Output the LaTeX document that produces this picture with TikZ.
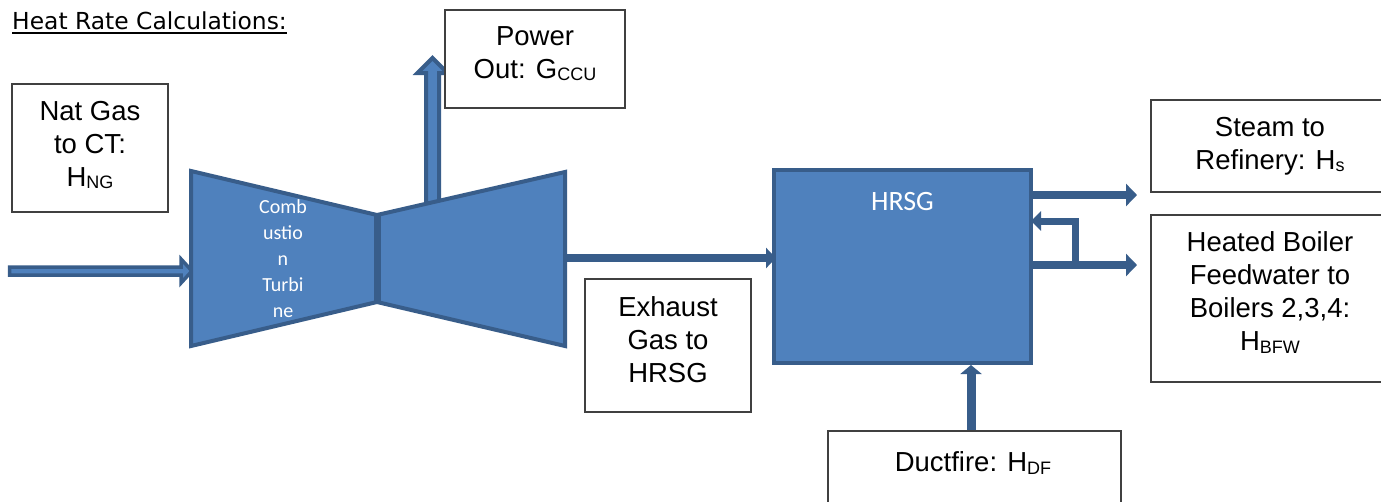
\documentclass[tikz,border=0pt]{standalone}
\usepackage{fontspec}
\setmainfont{Liberation Sans}
\newfontfamily\calibfont{Carlito}
\newfontfamily\titlefont{DejaVu Sans}
\usetikzlibrary{arrows.meta,calc}
\definecolor{accfill}{HTML}{4F81BD}
\definecolor{accline}{HTML}{385D8A}
\definecolor{boxline}{HTML}{404040}
\newcommand{\subtxt}[1]{\raisebox{-2.5pt}{\fontsize{18}{18}\selectfont #1}}

\begin{document}
\begin{tikzpicture}[x=1pt,y=-1pt,
  infobox/.style={draw=boxline, line width=1.4pt, fill=white, inner sep=0pt},
  infotext/.style={align=center, font=\fontsize{27.5}{33}\selectfont, inner sep=0pt},
  machine/.style={fill=accfill, draw=accline, line width=4pt, line join=miter},
  blockarrow/.style={fill=accfill, draw=accline, line width=3.5pt, line join=miter},
  flow/.style={draw=accline, line width=8pt, -{Triangle[length=11pt,width=22pt]}},
]
\clip (0,0) rectangle (1381,501);
\fill[white] (0,0) rectangle (1381,501);

% title
\node[anchor=base west, inner sep=0pt, font=\titlefont\fontsize{23.4}{28}\selectfont]
  (title) at (12,29) {Heat Rate Calculations:};
\draw[line width=1.8pt] ($(title.base west)+(0,4)$) -- ($(title.base east)+(0,4)$);

% natural gas inlet arrow (outlined block arrow)
\coordinate (gasin) at (9.5,271);
\coordinate (gastip) at (192,271);
\path[blockarrow] ($(gasin)+(0,-4)$) -- ($(gastip)+(-11,-4)$) -- ($(gastip)+(-11,-12)$)
  -- (gastip) -- ($(gastip)+(-11,12)$) -- ($(gastip)+(-11,4)$) -- ($(gasin)+(0,4)$) -- cycle;

% power output arrow (outlined block arrow)
\coordinate (powbase) at (432.5,205);
\coordinate (powtip) at (432.5,58);
\path[blockarrow, line width=4pt] ($(powbase)+(-6.5,0)$) -- ($(powtip)+(-6.5,15)$)
  -- ($(powtip)+(-15,15)$) -- (powtip) -- ($(powtip)+(15,15)$) -- ($(powtip)+(6.5,15)$)
  -- ($(powbase)+(6.5,0)$) -- cycle;

% combustion turbine: compressor cone and turbine cone
\coordinate (inTL) at (191,171);
\coordinate (neckT) at (377,215);
\coordinate (neckB) at (377,302);
\coordinate (inBL) at (191,346);
\coordinate (outTR) at (565,172);
\coordinate (outBR) at (565,346);
\path[machine] (inTL) -- (neckT) -- (neckB) -- (inBL) -- cycle;
\path[machine] (neckT) -- (outTR) -- (outBR) -- (neckB) -- cycle;
\draw[accline, line width=7pt] (neckT) -- (neckB);
\node[text=white, align=center, inner sep=0pt, font=\calibfont\fontsize{20}{26}\selectfont]
  (cttext) at (283,259) {Comb\\ustio\\n\\Turbi\\ne};

% heat recovery steam generator
\node[machine, inner sep=0pt, minimum width=257pt, minimum height=193pt]
  (hrsg) at (902.5,266.5) {};
\node[text=white, inner sep=0pt, font=\calibfont\fontsize{28}{32}\selectfont]
  (hrsgtext) at ($(hrsg.north)+(0,34)$) {HRSG};

% text boxes
\node[infobox, minimum width=156pt, minimum height=128pt] (natgas) at (90,148) {};
\node[infotext] (natgastext) at ($(natgas.center)+(0,-3)$) {Nat Gas\\to CT:\\H\subtxt{NG}};

\node[infobox, minimum width=180pt, minimum height=98pt] (power) at (535,59) {};
\node[infotext] (powertext) at ($(power.center)+(0,-5.5)$) {Power\\Out: G\subtxt{CCU}};

\node[infobox, minimum width=238pt, minimum height=92pt] (steam) at (1270,146) {};
\node[infotext] (steamtext) at ($(steam.center)+(0,0)$) {Steam to\\Refinery: H\subtxt{s}};

\node[infobox, minimum width=238pt, minimum height=167pt] (bfw) at (1270,298.5) {};
\node[infotext] (bfwtext) at ($(bfw.center)+(0,-6)$)
  {Heated Boiler\\Feedwater to\\Boilers 2,3,4:\\H\subtxt{BFW}};

\node[infobox, minimum width=166pt, minimum height=133pt] (exhaust) at (668,345.5) {};
\node[infotext] (exhausttext) at ($(exhaust.center)+(0,-5.5)$) {Exhaust\\Gas to\\HRSG};

\node[infobox, minimum width=293pt, minimum height=109pt] (duct) at (974.5,485.5) {};
\node[infotext] (ducttext) at (973,463) {Ductfire: H\subtxt{DF}};

% flow connectors
\coordinate (ctexit) at (565,258);
\draw[flow, -{Triangle[length=10pt,width=20pt]}] (ctexit) -- ($(hrsg.west|-ctexit)+(4,0)$);

\coordinate (steamend) at (1137,195);
\coordinate (bfwend) at (1137,265);
\draw[flow] ($(hrsg.east|-steamend)+(-2,0)$) -- (steamend);
\draw[flow] ($(hrsg.east|-bfwend)+(-2,0)$) -- (bfwend);

\coordinate (loopjoin) at (1075,265);
\coordinate (loopcorner) at (1075,221);
\draw[flow, line width=7pt, line join=miter, -{Triangle[length=10pt,width=19pt]}]
  (loopjoin) -- (loopcorner) -- ($(hrsg.east|-loopcorner)+(-2,0)$);

\draw[flow, line width=9pt, -{Triangle[length=9pt,width=21pt]}]
  ($(duct.north)+(-3.5,0)$) -- ($(hrsg.south)+(68.5,0)$);
\end{tikzpicture}
\end{document}
